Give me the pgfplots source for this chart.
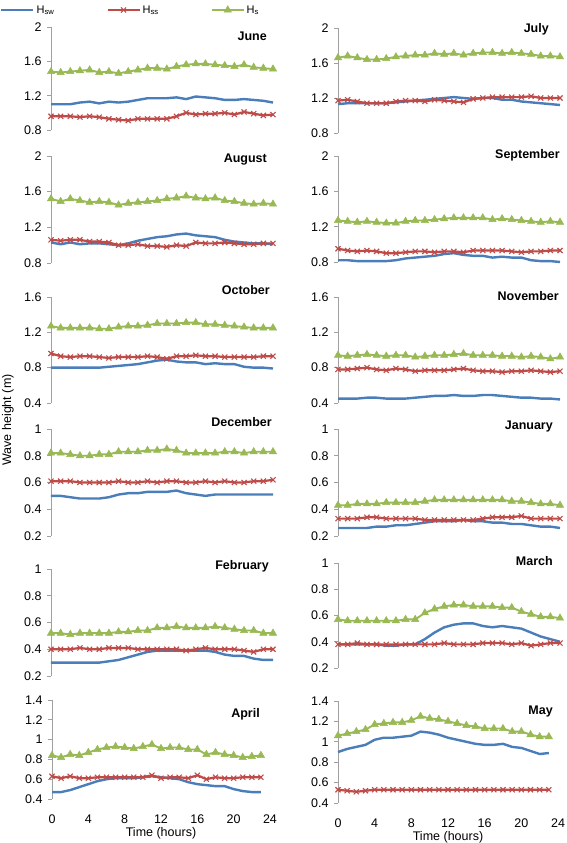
\documentclass[border=0pt]{standalone}
\usepackage{pgfplots}
\pgfplotsset{compat=1.18}
\usepackage{pgfplotstable}
\usepackage{fontspec}
\setmainfont{Liberation Sans}
\definecolor{cblue}{HTML}{4A7EBB}
\definecolor{cred}{HTML}{BE4B48}
\definecolor{cgreen}{HTML}{98B954}
\definecolor{caxis}{HTML}{A0A0A0}

\pgfplotstableread{
h sw ss s
0 1.10 0.96 1.48
1 1.10 0.96 1.47
2 1.10 0.96 1.48
3 1.12 0.95 1.49
4 1.13 0.96 1.50
5 1.11 0.95 1.47
6 1.13 0.93 1.48
7 1.12 0.92 1.46
8 1.13 0.91 1.48
9 1.15 0.93 1.50
10 1.17 0.93 1.52
11 1.17 0.93 1.52
12 1.17 0.93 1.51
13 1.18 0.96 1.54
14 1.16 1.00 1.56
15 1.19 0.98 1.57
16 1.18 0.99 1.57
17 1.17 0.99 1.56
18 1.15 1.00 1.55
19 1.15 0.98 1.54
20 1.16 1.01 1.56
21 1.15 0.99 1.53
22 1.14 0.97 1.52
23 1.12 0.98 1.51
}\june
\pgfplotstableread{
h sw ss s
0 1.13 1.17 1.66
1 1.14 1.18 1.68
2 1.14 1.16 1.66
3 1.14 1.14 1.64
4 1.14 1.14 1.64
5 1.14 1.14 1.65
6 1.15 1.16 1.67
7 1.16 1.17 1.68
8 1.17 1.17 1.69
9 1.18 1.16 1.69
10 1.19 1.18 1.71
11 1.20 1.17 1.70
12 1.21 1.16 1.71
13 1.20 1.15 1.69
14 1.19 1.19 1.71
15 1.20 1.20 1.72
16 1.20 1.21 1.72
17 1.18 1.21 1.71
18 1.18 1.21 1.72
19 1.16 1.21 1.71
20 1.15 1.22 1.70
21 1.14 1.20 1.68
22 1.13 1.20 1.68
23 1.12 1.20 1.67
}\july
\pgfplotstableread{
h sw ss s
0 1.03 1.06 1.52
1 1.01 1.05 1.49
2 1.03 1.06 1.52
3 1.01 1.06 1.50
4 1.02 1.04 1.48
5 1.02 1.04 1.49
6 1.01 1.03 1.48
7 1.00 1.00 1.45
8 1.02 1.00 1.47
9 1.05 1.01 1.48
10 1.07 0.99 1.49
11 1.09 0.99 1.50
12 1.10 0.98 1.52
13 1.12 1.00 1.53
14 1.13 0.99 1.55
15 1.11 1.03 1.53
16 1.10 1.02 1.52
17 1.09 1.02 1.53
18 1.06 1.03 1.50
19 1.04 1.02 1.49
20 1.03 1.01 1.47
21 1.02 1.01 1.46
22 1.02 1.02 1.47
23 1.01 1.02 1.46
}\august
\pgfplotstableread{
h sw ss s
0 0.82 0.95 1.27
1 0.82 0.93 1.26
2 0.81 0.92 1.25
3 0.81 0.93 1.26
4 0.81 0.92 1.25
5 0.81 0.90 1.24
6 0.82 0.90 1.24
7 0.84 0.91 1.26
8 0.85 0.92 1.27
9 0.86 0.92 1.27
10 0.87 0.91 1.28
11 0.89 0.92 1.29
12 0.90 0.92 1.30
13 0.88 0.91 1.30
14 0.87 0.93 1.30
15 0.87 0.93 1.30
16 0.85 0.93 1.28
17 0.86 0.93 1.29
18 0.85 0.92 1.28
19 0.85 0.91 1.27
20 0.82 0.92 1.26
21 0.81 0.92 1.25
22 0.81 0.93 1.26
23 0.80 0.93 1.25
}\september
\pgfplotstableread{
h sw ss s
0 0.80 0.96 1.27
1 0.80 0.93 1.25
2 0.80 0.92 1.25
3 0.80 0.93 1.25
4 0.80 0.93 1.25
5 0.80 0.92 1.24
6 0.81 0.91 1.24
7 0.82 0.92 1.26
8 0.83 0.92 1.27
9 0.84 0.92 1.27
10 0.86 0.93 1.28
11 0.88 0.92 1.30
12 0.89 0.90 1.30
13 0.87 0.93 1.30
14 0.86 0.93 1.31
15 0.86 0.94 1.31
16 0.84 0.93 1.29
17 0.85 0.93 1.29
18 0.84 0.92 1.28
19 0.84 0.92 1.27
20 0.81 0.92 1.26
21 0.80 0.92 1.25
22 0.80 0.93 1.25
23 0.79 0.93 1.25
}\october
\pgfplotstableread{
h sw ss s
0 0.45 0.78 0.94
1 0.45 0.78 0.93
2 0.45 0.79 0.94
3 0.46 0.80 0.95
4 0.46 0.78 0.94
5 0.45 0.77 0.93
6 0.45 0.79 0.94
7 0.45 0.78 0.94
8 0.46 0.76 0.92
9 0.47 0.77 0.93
10 0.48 0.77 0.94
11 0.48 0.77 0.94
12 0.49 0.78 0.95
13 0.48 0.79 0.96
14 0.48 0.77 0.94
15 0.49 0.76 0.94
16 0.49 0.76 0.94
17 0.48 0.75 0.93
18 0.47 0.76 0.93
19 0.46 0.76 0.92
20 0.46 0.77 0.93
21 0.45 0.76 0.92
22 0.45 0.75 0.90
23 0.44 0.76 0.92
}\november
\pgfplotstableread{
h sw ss s
0 0.50 0.61 0.82
1 0.50 0.61 0.82
2 0.49 0.61 0.81
3 0.48 0.60 0.80
4 0.48 0.60 0.80
5 0.48 0.60 0.81
6 0.49 0.60 0.81
7 0.51 0.61 0.83
8 0.52 0.60 0.83
9 0.52 0.60 0.83
10 0.53 0.61 0.84
11 0.53 0.60 0.84
12 0.53 0.61 0.85
13 0.54 0.61 0.84
14 0.52 0.60 0.82
15 0.51 0.60 0.82
16 0.50 0.61 0.82
17 0.51 0.60 0.82
18 0.51 0.61 0.83
19 0.51 0.60 0.83
20 0.51 0.60 0.82
21 0.51 0.61 0.83
22 0.51 0.61 0.83
23 0.51 0.62 0.83
}\december
\pgfplotstableread{
h sw ss s
0 0.26 0.33 0.43
1 0.26 0.33 0.43
2 0.26 0.33 0.44
3 0.26 0.34 0.44
4 0.27 0.34 0.44
5 0.27 0.33 0.45
6 0.28 0.33 0.45
7 0.28 0.33 0.45
8 0.29 0.33 0.45
9 0.30 0.32 0.46
10 0.31 0.32 0.47
11 0.31 0.32 0.47
12 0.31 0.32 0.47
13 0.32 0.32 0.47
14 0.31 0.32 0.47
15 0.31 0.33 0.47
16 0.30 0.34 0.47
17 0.30 0.34 0.47
18 0.29 0.34 0.46
19 0.29 0.35 0.46
20 0.28 0.33 0.45
21 0.27 0.33 0.44
22 0.27 0.33 0.44
23 0.26 0.33 0.43
}\january
\pgfplotstableread{
h sw ss s
0 0.30 0.40 0.52
1 0.30 0.40 0.52
2 0.30 0.40 0.51
3 0.30 0.41 0.52
4 0.30 0.40 0.52
5 0.30 0.40 0.52
6 0.31 0.41 0.52
7 0.32 0.41 0.53
8 0.34 0.41 0.53
9 0.36 0.40 0.54
10 0.38 0.40 0.54
11 0.39 0.40 0.56
12 0.39 0.40 0.56
13 0.39 0.40 0.57
14 0.39 0.39 0.56
15 0.39 0.40 0.56
16 0.39 0.41 0.56
17 0.38 0.40 0.57
18 0.36 0.40 0.56
19 0.35 0.40 0.55
20 0.35 0.39 0.54
21 0.33 0.38 0.54
22 0.32 0.40 0.52
23 0.32 0.40 0.52
}\february
\pgfplotstableread{
h sw ss s
0 0.38 0.38 0.57
1 0.38 0.38 0.56
2 0.38 0.39 0.56
3 0.38 0.38 0.56
4 0.38 0.38 0.56
5 0.37 0.38 0.56
6 0.37 0.38 0.56
7 0.38 0.38 0.57
8 0.38 0.38 0.57
9 0.42 0.38 0.62
10 0.47 0.38 0.65
11 0.51 0.39 0.67
12 0.53 0.38 0.68
13 0.54 0.38 0.68
14 0.54 0.38 0.67
15 0.52 0.39 0.67
16 0.51 0.39 0.67
17 0.52 0.39 0.66
18 0.51 0.38 0.66
19 0.50 0.39 0.63
20 0.47 0.37 0.61
21 0.44 0.38 0.59
22 0.42 0.39 0.59
23 0.40 0.39 0.58
}\march
\pgfplotstableread{
h sw ss s
0 0.47 0.63 0.84
1 0.47 0.61 0.82
2 0.49 0.63 0.85
3 0.52 0.61 0.84
4 0.55 0.61 0.87
5 0.58 0.62 0.90
6 0.60 0.62 0.92
7 0.61 0.62 0.93
8 0.61 0.62 0.92
9 0.61 0.62 0.91
10 0.62 0.62 0.93
11 0.63 0.64 0.95
12 0.62 0.61 0.91
13 0.61 0.62 0.92
14 0.60 0.62 0.92
15 0.57 0.61 0.90
16 0.55 0.64 0.90
17 0.54 0.60 0.85
18 0.53 0.62 0.87
19 0.53 0.61 0.85
20 0.50 0.61 0.84
21 0.48 0.62 0.82
22 0.47 0.62 0.83
23 0.47 0.62 0.84
}\april
\pgfplotstableread{
h sw ss s
0 0.90 0.53 1.06
1 0.93 0.52 1.08
2 0.95 0.51 1.10
3 0.97 0.52 1.12
4 1.02 0.53 1.17
5 1.04 0.53 1.18
6 1.04 0.53 1.19
7 1.05 0.53 1.19
8 1.06 0.53 1.21
9 1.10 0.53 1.25
10 1.09 0.53 1.23
11 1.07 0.53 1.22
12 1.04 0.53 1.20
13 1.02 0.53 1.18
14 1.00 0.53 1.16
15 0.98 0.53 1.15
16 0.97 0.53 1.13
17 0.97 0.53 1.13
18 0.98 0.53 1.13
19 0.95 0.53 1.10
20 0.94 0.53 1.10
21 0.91 0.53 1.07
22 0.88 0.53 1.05
23 0.89 0.53 1.05
}\may

\pgfplotsset{
  panel/.style={
    scale only axis, anchor=south west, clip=false,
    xmin=0, xmax=23,
    axis x line*=bottom,
    x axis line style={draw=none},
    xtick=\empty,
    axis y line*=left,
    y axis line style={draw=caxis, line width=0.8pt, -},
    ytick style={draw=caxis, line width=0.8pt},
    tick align=outside, major tick length=4pt,
    ticklabel style={font=\fontsize{12.5}{14}\selectfont},
    /pgf/number format/assume math mode=true,
    yticklabel style={xshift=-2pt},
  },
  bottompanel/.style={
    panel, xmax=24,
    xtick={0,4,8,12,16,20,24}, xtick style={draw=none},
    xticklabel style={yshift=-8pt},
    xlabel={Time (hours)},
    xlabel style={font=\fontsize{12.5}{14}\selectfont, inner sep=0pt, yshift=-1pt},
  },
  swp/.style={cblue, line width=2.4pt, no marks},
  ssp/.style={cred, line width=2.2pt, mark=x, mark size=3.6pt, mark options={line width=1.1pt}},
  sp/.style={cgreen, line width=1.9pt, mark=triangle*, mark size=4.2pt, mark options={line width=0.5pt}},
}
\newcommand{\three}[1]{%
  \addplot[swp] table[x=h,y=sw]{#1};
  \addplot[ssp] table[x=h,y=ss]{#1};
  \addplot[sp] table[x=h,y=s]{#1};
}

\begin{document}
\begin{tikzpicture}
\path[use as bounding box] (0pt,0pt) rectangle (567pt,843pt);

% Row 1
\begin{axis}[panel, at={(51pt,713pt)}, width=222pt, height=103pt,
  ymin=0.8, ymax=2, ytick={0.8,1.2,1.6,2},
  legend columns=3,
  legend style={at={(-0.2297,1.165)}, anchor=west, draw=none, fill=none, inner sep=0pt,
    font=\fontsize{11}{12}\selectfont,
    /tikz/every even column/.append style={column sep=50pt}},
  legend cell align=left,
  legend image code/.code={\draw[mark repeat=2,mark phase=2,#1] plot coordinates {(0pt,0pt) (16pt,0pt) (32pt,0pt)};},
  ]
  \three{\june}
  \addlegendentry{H\textsubscript{sw}}
  \addlegendentry{H\textsubscript{ss}}
  \addlegendentry{H\textsubscript{s}}
\end{axis}
\begin{axis}[panel, at={(338pt,710pt)}, width=222pt, height=105pt,
  ymin=0.8, ymax=2, ytick={0.8,1.2,1.6,2}]
  \three{\july}
\end{axis}

% Row 2
\begin{axis}[panel, at={(51pt,580pt)}, width=222pt, height=107pt,
  ymin=0.8, ymax=2, ytick={0.8,1.2,1.6,2}]
  \three{\august}
\end{axis}
\begin{axis}[panel, at={(338pt,581pt)}, width=222pt, height=106pt,
  ymin=0.8, ymax=2, ytick={0.8,1.2,1.6,2}]
  \three{\september}
\end{axis}

% Row 3
\begin{axis}[panel, at={(51pt,440pt)}, width=222pt, height=106pt,
  ymin=0.4, ymax=1.6, ytick={0.4,0.8,1.2,1.6}]
  \three{\october}
\end{axis}
\begin{axis}[panel, at={(338pt,440pt)}, width=222pt, height=106pt,
  ymin=0.4, ymax=1.6, ytick={0.4,0.8,1.2,1.6}]
  \three{\november}
\end{axis}

% Row 4
\begin{axis}[panel, at={(51pt,307pt)}, width=222pt, height=107pt,
  ymin=0.2, ymax=1, ytick={0.2,0.4,0.6,0.8,1}]
  \three{\december}
\end{axis}
\begin{axis}[panel, at={(338pt,307pt)}, width=222pt, height=107pt,
  ymin=0.2, ymax=1, ytick={0.2,0.4,0.6,0.8,1}]
  \three{\january}
\end{axis}

% Row 5
\begin{axis}[panel, at={(51pt,167pt)}, width=222pt, height=107pt,
  ymin=0.2, ymax=1, ytick={0.2,0.4,0.6,0.8,1}]
  \three{\february}
\end{axis}
\begin{axis}[panel, at={(338pt,175pt)}, width=222pt, height=105pt,
  ymin=0.2, ymax=1, ytick={0.2,0.4,0.6,0.8,1}]
  \three{\march}
\end{axis}

% Row 6
\begin{axis}[bottompanel, at={(52pt,44pt)}, width=218pt, height=99pt,
  ymin=0.4, ymax=1.4, ytick={0.4,0.6,0.8,1,1.2,1.4}]
  \three{\april}
\end{axis}
\begin{axis}[bottompanel, at={(338pt,40pt)}, width=220pt, height=102pt,
  ymin=0.4, ymax=1.4, ytick={0.4,0.6,0.8,1,1.2,1.4}]
  \three{\may}
\end{axis}

% Titles
\begin{scope}[every node/.style={anchor=east, font=\fontsize{12.5}{14}\selectfont\bfseries, inner sep=0pt}]
\node at (267pt,807pt) {June};
\node at (549pt,814pt) {July};
\node at (267pt,683pt) {August};
\node at (560pt,688pt) {September};
\node at (270pt,553pt) {October};
\node at (559pt,547pt) {November};
\node at (272pt,421pt) {December};
\node at (553pt,416pt) {January};
\node at (269pt,277pt) {February};
\node at (553pt,282pt) {March};
\node at (260pt,129pt) {April};
\node at (553pt,132pt) {May};
\end{scope}
\node[rotate=90, font=\fontsize{12.5}{14}\selectfont, inner sep=0pt] at (8pt,423pt) {Wave height (m)};
\end{tikzpicture}
\end{document}
